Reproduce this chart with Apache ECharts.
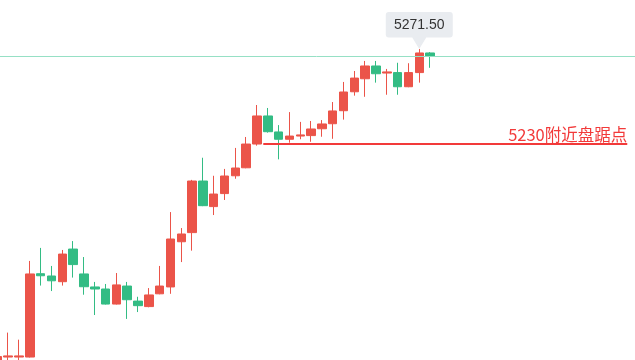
<!DOCTYPE html>
<html><head><meta charset="utf-8">
<script src="https://cdn.jsdelivr.net/npm/echarts@6/dist/echarts.min.js"></script>
<style>html,body{margin:0;padding:0;background:#fff;overflow:hidden;width:635px;height:360px;position:relative}
#c{position:absolute;left:-8px;top:0;width:649px;height:360px}</style>
</head><body><div id="c"></div>
<script>
// hidden category axis (41 bars + empty future slots)
const categories = [];
for (let i = 1; i <= 60; i++) categories.push(String(i));

const openPrices = [5134.0,5136.6,5136.6,5136.6,5173.1,5172.1,5169.6,5183.9,5173.0,5167.3,
  5166.4,5159.8,5167.7,5161.1,5158.7,5164.3,5167.3,5187.1,5191.1,5213.7,
  5202.5,5208.2,5216.0,5219.5,5229.9,5242.2,5235.2,5232.0,5233.4,5233.6,
  5236.6,5238.8,5244.5,5252.8,5258.5,5264.1,5261.0,5261.2,5255.0,5261.2,5269.8];
const closePrices = [5136.8,5137.1,5137.1,5173.0,5172.2,5170.0,5181.7,5177.1,5167.4,5166.4,
  5159.8,5168.2,5161.7,5159.1,5163.8,5167.7,5188.3,5190.5,5213.7,5202.9,
  5208.0,5215.9,5219.4,5229.9,5242.2,5235.3,5232.0,5233.4,5233.9,5236.5,
  5238.7,5244.4,5252.7,5258.8,5264.1,5260.7,5261.5,5255.0,5261.2,5269.8,5268.5];
const lowPrices = [5133.1,5134.0,5134.0,5136.4,5167.9,5165.5,5167.9,5171.4,5163.9,5155.0,
  5159.6,5159.6,5153.3,5156.3,5158.4,5164.1,5164.3,5178.2,5183.2,5202.7,
  5198.8,5205.4,5214.7,5219.3,5229.2,5234.9,5223.2,5230.5,5232.0,5230.9,
  5233.1,5232.2,5240.6,5251.1,5250.6,5256.8,5251.5,5251.5,5254.8,5256.8,5263.3];
const highPrices = [5137.5,5147.3,5144.2,5178.7,5184.4,5176.5,5183.5,5187.4,5180.4,5169.5,
  5168.6,5173.4,5169.5,5163.0,5166.8,5176.5,5200.1,5193.1,5214.2,5223.9,
  5216.0,5219.0,5228.2,5233.0,5247.0,5245.7,5238.2,5243.9,5239.6,5240.0,
  5240.4,5248.3,5257.1,5261.9,5266.3,5266.3,5262.8,5265.5,5265.3,5271.5,5270.2];

const supportLevel = 5230;
const supportStart = 24.58;   // position on the slot axis
const supportEnd = 58.23;
const supportText = '5230附近盘踞点';

const RED = '#eb5449', GREEN = '#33bc84', LINE_RED = '#f23a3a';

const kData = openPrices.map((o, i) => [o, closePrices[i], lowPrices[i], highPrices[i]]);
const lastClose = closePrices[closePrices.length - 1];

const chart = echarts.init(document.getElementById('c'), null, {renderer: 'canvas'});
chart.setOption({
  animation: false,
  backgroundColor: '#fff',
  grid: {left: 0, right: 0, top: 0, bottom: 0},
  xAxis: [
    {type: 'category', data: categories, show: false, boundaryGap: true},
    {type: 'value', min: -0.5, max: categories.length - 0.5, show: false}
  ],
  yAxis: {type: 'value', min: 5135.3, max: 5293, show: false, scale: true},
  series: [
    {
      type: 'candlestick',
      data: kData,
      barWidth: 9,
      itemStyle: {color: RED, color0: GREEN, borderColor: RED, borderColor0: GREEN, borderWidth: 1},
      markLine: {
        silent: true, symbol: ['none', 'none'],
        label: {show: false},
        lineStyle: {color: '#96e0c5', width: 1, type: 'solid'},
        data: [{yAxis: lastClose}]
      },
      markPoint: {
        silent: true,
        symbol: 'path://M3,0 H64 Q67,0 67,3 V22.5 Q67,25.5 64,25.5 H40.5 L33.5,37 L26.5,25.5 H3 Q0,25.5 0,22.5 V3 Q0,0 3,0 Z',
        symbolSize: [67, 37],
        symbolOffset: [0, '-50%'],
        itemStyle: {color: '#e9ecf0'},
        label: {
          show: true, position: 'inside', offset: [0, -5.5],
          formatter: p => Number(p.value).toFixed(2),
          color: '#333', fontSize: 14, fontFamily: 'Liberation Sans, Arial, sans-serif'
        },
        data: [{type: 'max', valueDim: 'highest'}]
      }
    },
    {
      type: 'line',
      xAxisIndex: 1,
      data: [[supportStart, supportLevel], [supportEnd, supportLevel]],
      symbol: 'none',
      silent: true,
      lineStyle: {opacity: 0},
      markLine: {
        silent: true, symbol: ['none', 'none'],
        lineStyle: {color: LINE_RED, width: 2, type: 'solid'},
        label: {
          show: true, position: 'insideEndTop', formatter: supportText,
          color: LINE_RED, fontSize: 16.5, distance: [0, 1],
          fontFamily: "'Liberation Sans Narrow', 'Noto Sans CJK SC', sans-serif"
        },
        data: [[{coord: [supportStart, supportLevel]}, {coord: [supportEnd, supportLevel]}]]
      }
    }
  ]
});
</script></body></html>
